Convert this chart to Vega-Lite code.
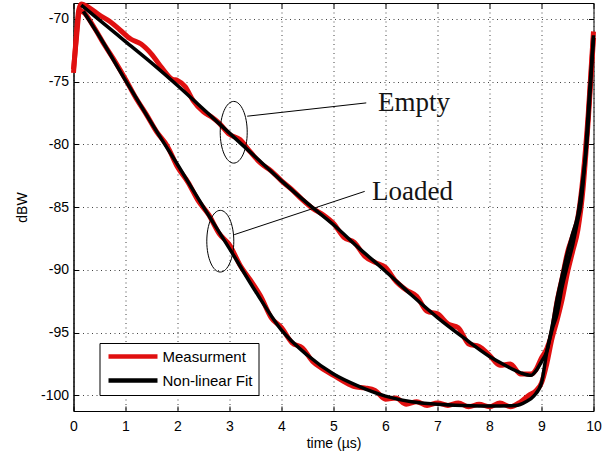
{
  "$schema": "https://vega.github.io/schema/vega-lite/v6.json",
  "width": 520,
  "height": 408,
  "autosize": {"type": "none"},
  "padding": {"left": 73.5, "top": 3, "right": 22.5, "bottom": 50},
  "background": "white",
  "config": {
    "font": "Liberation Sans",
    "view": {"stroke": "#000", "strokeWidth": 1},
    "axis": {
      "domainColor": "#000",
      "tickColor": "#000",
      "labelColor": "#000",
      "titleColor": "#000",
      "labelFontSize": 14,
      "titleFontSize": 14,
      "titleFontWeight": "normal",
      "gridColor": "#222",
      "gridDash": [1, 3.5],
      "gridOpacity": 0.85,
      "gridWidth": 1,
      "tickSize": -5
    }
  },
  "datasets": {
    "meas": [
      {"curve": "Empty", "series": "Measurment", "t": 0, "dB": -74.3},
      {"curve": "Empty", "series": "Measurment", "t": 0.05, "dB": -71.5},
      {"curve": "Empty", "series": "Measurment", "t": 0.1, "dB": -69.3},
      {"curve": "Empty", "series": "Measurment", "t": 0.15, "dB": -68.8},
      {"curve": "Empty", "series": "Measurment", "t": 0.3, "dB": -69.1},
      {"curve": "Empty", "series": "Measurment", "t": 0.5, "dB": -69.7},
      {"curve": "Empty", "series": "Measurment", "t": 0.7, "dB": -70.2},
      {"curve": "Empty", "series": "Measurment", "t": 0.9, "dB": -70.9},
      {"curve": "Empty", "series": "Measurment", "t": 1.1, "dB": -71.6},
      {"curve": "Empty", "series": "Measurment", "t": 1.3, "dB": -72.0},
      {"curve": "Empty", "series": "Measurment", "t": 1.5, "dB": -72.8},
      {"curve": "Empty", "series": "Measurment", "t": 1.7, "dB": -73.9},
      {"curve": "Empty", "series": "Measurment", "t": 1.9, "dB": -74.8},
      {"curve": "Empty", "series": "Measurment", "t": 2.0, "dB": -74.9},
      {"curve": "Empty", "series": "Measurment", "t": 2.15, "dB": -75.4},
      {"curve": "Empty", "series": "Measurment", "t": 2.3, "dB": -76.5},
      {"curve": "Empty", "series": "Measurment", "t": 2.5, "dB": -77.4},
      {"curve": "Empty", "series": "Measurment", "t": 2.65, "dB": -77.8},
      {"curve": "Empty", "series": "Measurment", "t": 2.8, "dB": -78.3},
      {"curve": "Empty", "series": "Measurment", "t": 3.0, "dB": -79.2},
      {"curve": "Empty", "series": "Measurment", "t": 3.2, "dB": -79.6},
      {"curve": "Empty", "series": "Measurment", "t": 3.4, "dB": -80.6},
      {"curve": "Empty", "series": "Measurment", "t": 3.6, "dB": -81.5},
      {"curve": "Empty", "series": "Measurment", "t": 3.8, "dB": -82.1},
      {"curve": "Empty", "series": "Measurment", "t": 4.0, "dB": -82.9},
      {"curve": "Empty", "series": "Measurment", "t": 4.2, "dB": -83.6},
      {"curve": "Empty", "series": "Measurment", "t": 4.4, "dB": -84.4},
      {"curve": "Empty", "series": "Measurment", "t": 4.6, "dB": -85.1},
      {"curve": "Empty", "series": "Measurment", "t": 4.8, "dB": -85.6},
      {"curve": "Empty", "series": "Measurment", "t": 5.0, "dB": -86.3},
      {"curve": "Empty", "series": "Measurment", "t": 5.2, "dB": -87.4},
      {"curve": "Empty", "series": "Measurment", "t": 5.4, "dB": -87.8},
      {"curve": "Empty", "series": "Measurment", "t": 5.6, "dB": -88.9},
      {"curve": "Empty", "series": "Measurment", "t": 5.8, "dB": -89.4},
      {"curve": "Empty", "series": "Measurment", "t": 6.0, "dB": -89.8},
      {"curve": "Empty", "series": "Measurment", "t": 6.2, "dB": -90.9},
      {"curve": "Empty", "series": "Measurment", "t": 6.4, "dB": -91.6},
      {"curve": "Empty", "series": "Measurment", "t": 6.6, "dB": -92.1},
      {"curve": "Empty", "series": "Measurment", "t": 6.8, "dB": -93.3},
      {"curve": "Empty", "series": "Measurment", "t": 7.0, "dB": -93.5},
      {"curve": "Empty", "series": "Measurment", "t": 7.2, "dB": -94.3},
      {"curve": "Empty", "series": "Measurment", "t": 7.4, "dB": -94.6},
      {"curve": "Empty", "series": "Measurment", "t": 7.6, "dB": -95.9},
      {"curve": "Empty", "series": "Measurment", "t": 7.8, "dB": -96.1},
      {"curve": "Empty", "series": "Measurment", "t": 8.0, "dB": -96.8},
      {"curve": "Empty", "series": "Measurment", "t": 8.2, "dB": -97.6},
      {"curve": "Empty", "series": "Measurment", "t": 8.4, "dB": -97.5},
      {"curve": "Empty", "series": "Measurment", "t": 8.6, "dB": -98.3},
      {"curve": "Empty", "series": "Measurment", "t": 8.8, "dB": -98.3},
      {"curve": "Empty", "series": "Measurment", "t": 8.9, "dB": -97.9},
      {"curve": "Empty", "series": "Measurment", "t": 9.0, "dB": -97.0},
      {"curve": "Empty", "series": "Measurment", "t": 9.1, "dB": -96.3},
      {"curve": "Empty", "series": "Measurment", "t": 9.2, "dB": -95.0},
      {"curve": "Empty", "series": "Measurment", "t": 9.3, "dB": -92.5},
      {"curve": "Empty", "series": "Measurment", "t": 9.4, "dB": -90.6},
      {"curve": "Empty", "series": "Measurment", "t": 9.5, "dB": -88.6},
      {"curve": "Empty", "series": "Measurment", "t": 9.6, "dB": -87.3},
      {"curve": "Empty", "series": "Measurment", "t": 9.7, "dB": -85.8},
      {"curve": "Empty", "series": "Measurment", "t": 9.8, "dB": -82.5},
      {"curve": "Empty", "series": "Measurment", "t": 9.9, "dB": -77.5},
      {"curve": "Empty", "series": "Measurment", "t": 10.0, "dB": -71.0},
      {"curve": "Loaded", "series": "Measurment", "t": 0, "dB": -74.0},
      {"curve": "Loaded", "series": "Measurment", "t": 0.05, "dB": -71.8},
      {"curve": "Loaded", "series": "Measurment", "t": 0.12, "dB": -69.3},
      {"curve": "Loaded", "series": "Measurment", "t": 0.2, "dB": -69.5},
      {"curve": "Loaded", "series": "Measurment", "t": 0.4, "dB": -70.7},
      {"curve": "Loaded", "series": "Measurment", "t": 0.6, "dB": -72.1},
      {"curve": "Loaded", "series": "Measurment", "t": 0.8, "dB": -73.4},
      {"curve": "Loaded", "series": "Measurment", "t": 1.0, "dB": -74.8},
      {"curve": "Loaded", "series": "Measurment", "t": 1.2, "dB": -76.3},
      {"curve": "Loaded", "series": "Measurment", "t": 1.4, "dB": -77.6},
      {"curve": "Loaded", "series": "Measurment", "t": 1.6, "dB": -79.0},
      {"curve": "Loaded", "series": "Measurment", "t": 1.8, "dB": -80.1},
      {"curve": "Loaded", "series": "Measurment", "t": 2.0, "dB": -81.8},
      {"curve": "Loaded", "series": "Measurment", "t": 2.2, "dB": -83.0},
      {"curve": "Loaded", "series": "Measurment", "t": 2.4, "dB": -84.5},
      {"curve": "Loaded", "series": "Measurment", "t": 2.6, "dB": -85.6},
      {"curve": "Loaded", "series": "Measurment", "t": 2.8, "dB": -87.1},
      {"curve": "Loaded", "series": "Measurment", "t": 3.0, "dB": -88.0},
      {"curve": "Loaded", "series": "Measurment", "t": 3.2, "dB": -89.6},
      {"curve": "Loaded", "series": "Measurment", "t": 3.4, "dB": -90.8},
      {"curve": "Loaded", "series": "Measurment", "t": 3.6, "dB": -92.1},
      {"curve": "Loaded", "series": "Measurment", "t": 3.8, "dB": -93.8},
      {"curve": "Loaded", "series": "Measurment", "t": 4.0, "dB": -94.6},
      {"curve": "Loaded", "series": "Measurment", "t": 4.2, "dB": -95.8},
      {"curve": "Loaded", "series": "Measurment", "t": 4.4, "dB": -96.2},
      {"curve": "Loaded", "series": "Measurment", "t": 4.6, "dB": -97.3},
      {"curve": "Loaded", "series": "Measurment", "t": 4.8, "dB": -97.9},
      {"curve": "Loaded", "series": "Measurment", "t": 5.0, "dB": -98.4},
      {"curve": "Loaded", "series": "Measurment", "t": 5.2, "dB": -98.9},
      {"curve": "Loaded", "series": "Measurment", "t": 5.4, "dB": -99.3},
      {"curve": "Loaded", "series": "Measurment", "t": 5.6, "dB": -99.4},
      {"curve": "Loaded", "series": "Measurment", "t": 5.8, "dB": -99.6},
      {"curve": "Loaded", "series": "Measurment", "t": 6.0, "dB": -100.3},
      {"curve": "Loaded", "series": "Measurment", "t": 6.2, "dB": -100.2},
      {"curve": "Loaded", "series": "Measurment", "t": 6.4, "dB": -100.7},
      {"curve": "Loaded", "series": "Measurment", "t": 6.6, "dB": -100.5},
      {"curve": "Loaded", "series": "Measurment", "t": 6.8, "dB": -100.8},
      {"curve": "Loaded", "series": "Measurment", "t": 7.0, "dB": -100.6},
      {"curve": "Loaded", "series": "Measurment", "t": 7.2, "dB": -100.8},
      {"curve": "Loaded", "series": "Measurment", "t": 7.4, "dB": -100.6},
      {"curve": "Loaded", "series": "Measurment", "t": 7.6, "dB": -100.9},
      {"curve": "Loaded", "series": "Measurment", "t": 7.8, "dB": -100.7},
      {"curve": "Loaded", "series": "Measurment", "t": 8.0, "dB": -100.9},
      {"curve": "Loaded", "series": "Measurment", "t": 8.2, "dB": -100.6},
      {"curve": "Loaded", "series": "Measurment", "t": 8.4, "dB": -100.9},
      {"curve": "Loaded", "series": "Measurment", "t": 8.6, "dB": -100.5},
      {"curve": "Loaded", "series": "Measurment", "t": 8.75, "dB": -100.0},
      {"curve": "Loaded", "series": "Measurment", "t": 8.9, "dB": -99.6},
      {"curve": "Loaded", "series": "Measurment", "t": 9.0, "dB": -99.0},
      {"curve": "Loaded", "series": "Measurment", "t": 9.1, "dB": -97.5},
      {"curve": "Loaded", "series": "Measurment", "t": 9.2, "dB": -95.5},
      {"curve": "Loaded", "series": "Measurment", "t": 9.3, "dB": -94.0},
      {"curve": "Loaded", "series": "Measurment", "t": 9.4, "dB": -92.3},
      {"curve": "Loaded", "series": "Measurment", "t": 9.5, "dB": -90.2},
      {"curve": "Loaded", "series": "Measurment", "t": 9.6, "dB": -88.5},
      {"curve": "Loaded", "series": "Measurment", "t": 9.7, "dB": -86.8},
      {"curve": "Loaded", "series": "Measurment", "t": 9.8, "dB": -83.5},
      {"curve": "Loaded", "series": "Measurment", "t": 9.9, "dB": -78.0},
      {"curve": "Loaded", "series": "Measurment", "t": 10.0, "dB": -71.5}
    ],
    "fit": [
      {"curve": "Empty", "series": "Non-linear Fit", "t": 0.15, "dB": -68.9},
      {"curve": "Empty", "series": "Non-linear Fit", "t": 0.5, "dB": -70.1},
      {"curve": "Empty", "series": "Non-linear Fit", "t": 1, "dB": -71.8},
      {"curve": "Empty", "series": "Non-linear Fit", "t": 1.5, "dB": -73.5},
      {"curve": "Empty", "series": "Non-linear Fit", "t": 2, "dB": -75.3},
      {"curve": "Empty", "series": "Non-linear Fit", "t": 2.5, "dB": -77.2},
      {"curve": "Empty", "series": "Non-linear Fit", "t": 3, "dB": -79.1},
      {"curve": "Empty", "series": "Non-linear Fit", "t": 3.5, "dB": -81.0},
      {"curve": "Empty", "series": "Non-linear Fit", "t": 4, "dB": -82.9},
      {"curve": "Empty", "series": "Non-linear Fit", "t": 4.5, "dB": -84.7},
      {"curve": "Empty", "series": "Non-linear Fit", "t": 5, "dB": -86.4},
      {"curve": "Empty", "series": "Non-linear Fit", "t": 5.5, "dB": -88.3},
      {"curve": "Empty", "series": "Non-linear Fit", "t": 6, "dB": -90.1},
      {"curve": "Empty", "series": "Non-linear Fit", "t": 6.5, "dB": -92.0},
      {"curve": "Empty", "series": "Non-linear Fit", "t": 7, "dB": -93.8},
      {"curve": "Empty", "series": "Non-linear Fit", "t": 7.5, "dB": -95.4},
      {"curve": "Empty", "series": "Non-linear Fit", "t": 8, "dB": -96.9},
      {"curve": "Empty", "series": "Non-linear Fit", "t": 8.3, "dB": -97.6},
      {"curve": "Empty", "series": "Non-linear Fit", "t": 8.6, "dB": -98.2},
      {"curve": "Empty", "series": "Non-linear Fit", "t": 8.8, "dB": -98.4},
      {"curve": "Empty", "series": "Non-linear Fit", "t": 8.9, "dB": -98.0},
      {"curve": "Empty", "series": "Non-linear Fit", "t": 9.0, "dB": -97.3},
      {"curve": "Empty", "series": "Non-linear Fit", "t": 9.1, "dB": -96.5},
      {"curve": "Empty", "series": "Non-linear Fit", "t": 9.2, "dB": -94.6},
      {"curve": "Empty", "series": "Non-linear Fit", "t": 9.3, "dB": -92.3},
      {"curve": "Empty", "series": "Non-linear Fit", "t": 9.4, "dB": -90.4},
      {"curve": "Empty", "series": "Non-linear Fit", "t": 9.5, "dB": -88.6},
      {"curve": "Empty", "series": "Non-linear Fit", "t": 9.6, "dB": -87.1},
      {"curve": "Empty", "series": "Non-linear Fit", "t": 9.7, "dB": -85.6},
      {"curve": "Empty", "series": "Non-linear Fit", "t": 9.8, "dB": -82.6},
      {"curve": "Empty", "series": "Non-linear Fit", "t": 9.87, "dB": -80.0},
      {"curve": "Empty", "series": "Non-linear Fit", "t": 9.94, "dB": -75.5},
      {"curve": "Empty", "series": "Non-linear Fit", "t": 10, "dB": -71.3},
      {"curve": "Loaded", "series": "Non-linear Fit", "t": 0.19, "dB": -69.4},
      {"curve": "Loaded", "series": "Non-linear Fit", "t": 0.5, "dB": -71.4},
      {"curve": "Loaded", "series": "Non-linear Fit", "t": 1, "dB": -74.9},
      {"curve": "Loaded", "series": "Non-linear Fit", "t": 1.5, "dB": -78.3},
      {"curve": "Loaded", "series": "Non-linear Fit", "t": 2, "dB": -81.6},
      {"curve": "Loaded", "series": "Non-linear Fit", "t": 2.5, "dB": -85.0},
      {"curve": "Loaded", "series": "Non-linear Fit", "t": 3, "dB": -88.3},
      {"curve": "Loaded", "series": "Non-linear Fit", "t": 3.5, "dB": -91.7},
      {"curve": "Loaded", "series": "Non-linear Fit", "t": 4, "dB": -94.8},
      {"curve": "Loaded", "series": "Non-linear Fit", "t": 4.5, "dB": -96.8},
      {"curve": "Loaded", "series": "Non-linear Fit", "t": 5, "dB": -98.3},
      {"curve": "Loaded", "series": "Non-linear Fit", "t": 5.5, "dB": -99.3},
      {"curve": "Loaded", "series": "Non-linear Fit", "t": 6, "dB": -100.05},
      {"curve": "Loaded", "series": "Non-linear Fit", "t": 6.5, "dB": -100.5},
      {"curve": "Loaded", "series": "Non-linear Fit", "t": 7, "dB": -100.7},
      {"curve": "Loaded", "series": "Non-linear Fit", "t": 7.5, "dB": -100.8},
      {"curve": "Loaded", "series": "Non-linear Fit", "t": 8, "dB": -100.85},
      {"curve": "Loaded", "series": "Non-linear Fit", "t": 8.5, "dB": -100.8},
      {"curve": "Loaded", "series": "Non-linear Fit", "t": 8.7, "dB": -100.5},
      {"curve": "Loaded", "series": "Non-linear Fit", "t": 8.85, "dB": -100.05},
      {"curve": "Loaded", "series": "Non-linear Fit", "t": 9.0, "dB": -99.0},
      {"curve": "Loaded", "series": "Non-linear Fit", "t": 9.1, "dB": -96.6},
      {"curve": "Loaded", "series": "Non-linear Fit", "t": 9.2, "dB": -94.8},
      {"curve": "Loaded", "series": "Non-linear Fit", "t": 9.3, "dB": -93.5},
      {"curve": "Loaded", "series": "Non-linear Fit", "t": 9.4, "dB": -91.3},
      {"curve": "Loaded", "series": "Non-linear Fit", "t": 9.5, "dB": -89.6},
      {"curve": "Loaded", "series": "Non-linear Fit", "t": 9.6, "dB": -88.0},
      {"curve": "Loaded", "series": "Non-linear Fit", "t": 9.7, "dB": -86.0},
      {"curve": "Loaded", "series": "Non-linear Fit", "t": 9.75, "dB": -85.0},
      {"curve": "Loaded", "series": "Non-linear Fit", "t": 9.85, "dB": -80.5},
      {"curve": "Loaded", "series": "Non-linear Fit", "t": 9.92, "dB": -76.0},
      {"curve": "Loaded", "series": "Non-linear Fit", "t": 10, "dB": -71.5}
    ],
    "ellipses": [
      {"label": "Empty", "t": 3.081, "dB": -79.03},
      {"label": "Loaded", "t": 2.823, "dB": -87.71}
    ],
    "leaders": [
      {"label": "Empty", "t": 3.34, "dB": -77.75, "t2": 5.63, "dB2": -76.69},
      {"label": "Loaded", "t": 3.09, "dB": -87.19, "t2": 5.6, "dB2": -83.74}
    ],
    "labels": [
      {"label": "Empty", "t": 5.856, "dB": -77.35},
      {"label": "Loaded", "t": 5.74, "dB": -84.45}
    ]
  },
  "layer": [
    {
      "data": {"name": "meas"},
      "mark": {"type": "line", "strokeWidth": 5, "interpolate": "monotone"},
      "encoding": {
        "x": {
          "field": "t", "type": "quantitative",
          "scale": {"domain": [0, 10], "nice": false, "zero": false},
          "axis": {
            "orient": "bottom", "title": "time (µs)", "values": [0, 1, 2, 3, 4, 5, 6, 7, 8, 9, 10],
            "grid": true, "labelPadding": 13, "titlePadding": 3, "labelFlush": false,
            "labelExpr": "'' + datum.value"
          }
        },
        "y": {
          "field": "dB", "type": "quantitative",
          "scale": {"domain": [-101.24, -68.73], "nice": false, "zero": false},
          "axis": {
            "orient": "left", "title": "dBW", "values": [-100, -95, -90, -85, -80, -75, -70],
            "grid": true, "labelPadding": 10, "titlePadding": 11, "labelFlush": false,
            "labelExpr": "'' + datum.value"
          }
        },
        "color": {
          "field": "series", "type": "nominal",
          "scale": {"domain": ["Measurment", "Non-linear Fit"], "range": ["#e01010", "#000000"]},
          "legend": {
            "orient": "none", "legendX": 26, "legendY": 340, "title": null,
            "symbolType": "M-4,0H4", "symbolSize": 150, "symbolStrokeWidth": 4.5,
            "symbolOffset": 20, "labelOffset": 21, "labelFontSize": 15, "labelColor": "#000",
            "labelFont": "Liberation Sans",
            "padding": 5, "rowPadding": 5, "strokeColor": "#000", "fillColor": "#fff"
          }
        },
        "detail": {"field": "curve"}
      }
    },
    {
      "data": {"name": "fit"},
      "mark": {"type": "line", "strokeWidth": 3.5, "interpolate": "monotone"},
      "encoding": {
        "x": {"field": "t", "type": "quantitative", "axis": null},
        "y": {"field": "dB", "type": "quantitative", "axis": null},
        "color": {"field": "series", "type": "nominal"},
        "detail": {"field": "curve"}
      }
    },
    {
      "data": {"name": "ellipses"},
      "mark": {
        "type": "point", "filled": false, "opacity": 1, "stroke": "#000", "strokeWidth": 1,
        "shape": "M0,-1A0.4376,1,0,1,1,0,1A0.4376,1,0,1,1,0,-1Z", "size": 3807
      },
      "encoding": {
        "x": {"field": "t", "type": "quantitative", "axis": null},
        "y": {"field": "dB", "type": "quantitative", "axis": null}
      }
    },
    {
      "data": {"name": "leaders"},
      "mark": {"type": "rule", "color": "#000", "strokeWidth": 1},
      "encoding": {
        "x": {
          "field": "t", "type": "quantitative",
          "axis": {"orient": "top", "title": null, "labels": false, "domain": false, "grid": false, "values": [0, 1, 2, 3, 4, 5, 6, 7, 8, 9, 10]}
        },
        "y": {
          "field": "dB", "type": "quantitative",
          "axis": {"orient": "right", "title": null, "labels": false, "domain": false, "grid": false, "values": [-100, -95, -90, -85, -80, -75, -70]}
        },
        "x2": {"field": "t2"},
        "y2": {"field": "dB2"}
      }
    },
    {
      "data": {"name": "labels"},
      "mark": {"type": "text", "align": "left", "baseline": "alphabetic", "font": "Liberation Serif", "fontSize": 27, "color": "#141414"},
      "encoding": {
        "x": {"field": "t", "type": "quantitative", "axis": null},
        "y": {"field": "dB", "type": "quantitative", "axis": null},
        "text": {"field": "label"}
      }
    }
  ],
  "resolve": {"axis": {"x": "independent", "y": "independent"}}
}
